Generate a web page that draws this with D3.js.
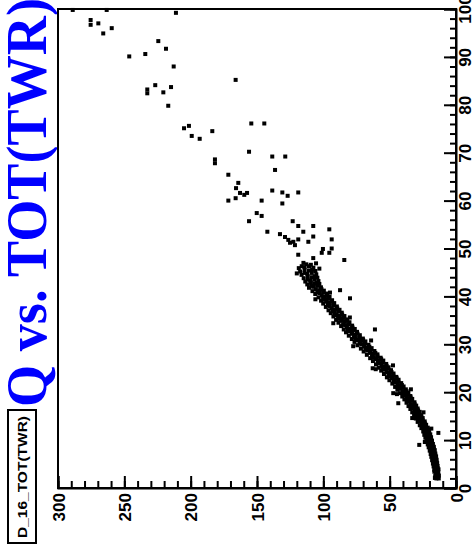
<!DOCTYPE html>
<html>
<head>
<meta charset="utf-8">
<script src="https://cdn.jsdelivr.net/npm/d3@7"></script>
<style>
body { margin: 0; background: #fff; }
svg { display: block; }
</style>
</head>
<body>
<svg></svg>
<script>
var width = 472, height = 558;
var frame = {left: 58, top: 9, right: 456, bottom: 488};

var title = "Q vs. TOT(TWR)";
var histName = "D_16_TOT(TWR)";
var qTicks = [0, 50, 100, 150, 200, 250, 300];
var totTicks = [0, 10, 20, 30, 40, 50, 60, 70, 80, 90, 100];

// scattered points [Q, TOT]
var sparse = [
  [288.9, 99.8], [263.3, 99.8], [211.1, 99.2], [275.4, 97.7], [275.4, 96.7], [269.6, 97.0],
  [259.5, 96.0], [265.9, 94.9], [224.4, 93.3], [218.6, 91.7], [246.3, 90.1], [234.2, 90.6],
  [212.8, 88.0], [166.1, 85.2], [232.7, 83.2], [232.7, 82.4], [226.7, 84.1], [220.6, 82.6],
  [214.8, 83.7], [216.9, 79.8], [205.0, 75.1], [201.3, 75.6], [199.2, 73.5], [193.2, 72.9],
  [183.7, 74.5], [154.3, 76.1], [144.5, 76.1], [181.7, 68.6], [181.7, 67.8], [156.0, 70.2],
  [138.5, 69.2], [128.7, 69.2], [136.4, 66.4], [171.6, 65.4], [164.1, 63.7], [165.8, 62.6],
  [162.8, 61.6], [159.6, 61.2], [157.5, 61.6], [171.6, 60.0], [166.1, 60.5], [146.5, 60.0],
  [138.5, 62.1], [130.9, 61.7], [126.9, 61.0], [118.9, 61.7], [130.9, 59.4], [150.2, 57.4],
  [146.5, 56.8], [156.0, 55.7], [142.2, 53.5], [123.1, 55.7], [118.9, 54.7], [115.1, 53.5],
  [107.6, 54.7], [95.5, 54.0], [93.7, 51.9], [107.6, 52.5], [132.7, 53.0], [128.9, 52.4],
  [126.4, 51.8], [122.6, 51.4], [118.9, 51.9], [111.3, 51.4], [93.7, 50.0], [100.3, 49.9],
  [125.1, 51.2], [121.4, 50.7], [118.9, 48.7], [107.6, 48.0], [101.2, 49.1], [95.5, 49.1],
  [84.2, 47.6], [87.4, 41.3], [79.9, 39.6], [91.2, 36.1], [61.1, 33.1], [62.8, 25.0],
  [47.3, 19.8], [43.5, 17.7], [27.7, 9.0], [13.3, 11.5], [14.5, 3.1]
];

// dense band [Q, TOT]
var band = [
  [13.0, 2.0], [14.8, 2.0], [15.9, 2.1], [12.9, 2.6], [14.2, 2.7], [15.6, 2.5],
  [13.4, 3.3], [15.2, 3.2], [16.3, 3.4], [13.2, 3.9], [14.6, 4.0], [16.4, 3.8],
  [13.9, 4.6], [15.8, 4.7], [16.9, 4.5], [14.2, 5.2], [15.5, 5.3], [17.4, 5.1],
  [14.6, 5.9], [16.8, 6.0], [18.0, 5.8], [15.0, 6.6], [16.5, 6.7], [18.6, 6.5],
  [15.6, 7.2], [17.9, 7.3], [19.1, 7.1], [16.0, 7.9], [17.6, 8.0], [19.8, 7.8],
  [16.7, 8.6], [19.2, 8.7], [20.6, 8.5], [17.4, 9.2], [19.0, 9.3], [21.3, 9.1],
  [18.1, 9.9], [20.8, 10.0], [22.2, 9.8], [18.8, 10.6], [20.6, 10.7], [23.1, 10.5],
  [19.4, 11.2], [22.3, 11.3], [23.9, 11.1], [20.2, 11.9], [22.1, 12.0], [24.7, 11.8],
  [21.3, 12.6], [24.4, 12.7], [26.1, 12.5], [22.5, 13.2], [24.6, 13.3], [27.3, 13.1],
  [23.6, 13.9], [27.1, 14.0], [28.9, 13.8], [25.1, 14.6], [27.3, 14.7], [30.3, 14.5],
  [26.2, 15.2], [29.7, 15.3], [31.6, 15.1], [27.4, 15.9], [29.8, 16.0], [33.0, 15.8],
  [28.9, 16.6], [32.6, 16.7], [34.4, 16.5], [30.0, 17.2], [32.4, 17.3], [35.8, 17.1],
  [31.3, 17.9], [35.2, 18.0], [37.3, 17.8], [33.0, 18.6], [35.4, 18.7], [38.9, 18.5],
  [34.4, 19.2], [38.3, 19.3], [40.5, 19.1], [35.9, 19.9], [38.5, 20.0], [42.1, 19.8],
  [37.8, 20.6], [42.0, 20.7], [44.2, 20.5], [39.5, 21.2], [42.2, 21.3], [45.9, 21.1],
  [41.3, 21.9], [45.8, 22.0], [48.0, 21.8], [43.3, 22.6], [46.2, 22.7], [50.2, 22.5],
  [45.0, 23.2], [49.7, 23.3], [52.1, 23.1], [47.1, 23.9], [50.1, 24.0], [54.3, 23.8],
  [49.0, 24.6], [53.9, 24.7], [56.4, 24.5], [50.8, 25.2], [53.8, 25.3], [58.2, 25.1],
  [52.6, 25.9], [57.6, 26.0], [60.3, 25.8], [54.8, 26.6], [58.1, 26.7], [62.6, 26.5],
  [56.8, 27.2], [61.9, 27.3], [64.7, 27.1], [59.2, 27.9], [62.5, 28.0], [67.2, 27.8],
  [61.5, 28.6], [66.7, 28.7], [69.6, 28.5], [63.6, 29.2], [67.0, 29.3], [71.7, 29.1],
  [66.0, 29.9], [71.3, 30.0], [74.3, 29.8], [68.3, 30.6], [71.7, 30.7], [76.5, 30.5],
  [70.2, 31.2], [75.5, 31.3], [78.5, 31.1], [72.5, 31.9], [76.0, 32.0], [80.8, 31.8],
  [74.6, 32.6], [79.9, 32.7], [82.9, 32.5], [76.3, 33.2], [79.8, 33.3], [84.6, 33.1],
  [78.3, 33.9], [83.6, 34.0], [86.6, 33.8], [80.3, 34.6], [83.8, 34.7], [88.6, 34.5],
  [82.1, 35.2], [87.4, 35.3], [90.4, 35.1], [84.1, 35.9], [87.6, 36.0], [92.4, 35.8],
  [86.1, 36.6], [91.4, 36.7], [94.4, 36.5], [87.8, 37.2], [91.3, 37.3], [96.1, 37.1],
  [89.8, 37.9], [95.1, 38.0], [98.1, 37.8], [91.8, 38.6], [95.3, 38.7], [100.1, 38.5],
  [93.4, 39.2], [98.7, 39.3], [101.7, 39.1], [95.3, 39.9], [98.8, 40.0], [103.6, 39.8],
  [97.5, 40.6], [103.0, 40.7], [106.1, 40.5], [99.6, 41.2], [103.2, 41.3], [108.2, 41.1],
  [101.8, 41.9], [107.6, 42.0], [110.8, 41.8], [103.0, 42.6], [106.8, 42.7], [112.1, 42.5],
  [103.7, 43.2], [109.9, 43.3], [113.6, 43.1], [104.5, 43.9], [108.6, 44.0], [114.8, 43.8],
  [105.3, 44.6], [112.1, 44.7], [116.4, 44.5], [106.0, 45.3], [110.8, 45.4], [117.5, 45.2],
  [107.5, 46.0], [114.2, 46.1], [118.5, 45.9], [109.4, 46.6], [112.8, 46.7]
];

// more band points between the ones above [Q, TOT]
var bandFill = [
  [13.9, 2.3], [15.4, 2.3], [13.5, 2.9], [14.9, 2.9], [14.3, 3.6], [15.8, 3.6],
  [13.9, 4.2], [15.5, 4.2], [14.8, 4.9], [16.4, 4.9], [14.8, 5.5], [16.5, 5.5],
  [15.7, 6.2], [17.4, 6.2], [15.7, 6.9], [17.5, 6.9], [16.7, 7.5], [18.5, 7.5],
  [16.8, 8.2], [18.7, 8.2], [17.9, 8.9], [19.9, 8.9], [18.2, 9.5], [20.1, 9.5],
  [19.4, 10.2], [21.5, 10.2], [19.7, 10.9], [21.8, 10.9], [20.8, 11.5], [23.1, 11.5],
  [21.1, 12.2], [23.4, 12.2], [22.8, 12.9], [25.2, 12.9], [23.5, 13.5], [25.9, 13.5],
  [25.3, 14.2], [28.0, 14.2], [26.2, 14.9], [28.8, 14.9], [27.9, 15.5], [30.6, 15.5],
  [28.6, 16.2], [31.4, 16.2], [30.7, 16.9], [33.5, 16.9], [31.2, 17.5], [34.1, 17.5],
  [33.2, 18.2], [36.2, 18.2], [34.2, 18.9], [37.1, 18.9], [36.3, 19.5], [39.4, 19.5],
  [37.2, 20.2], [40.3, 20.2], [39.9, 20.9], [43.1, 20.9], [40.8, 21.5], [44.0, 21.5],
  [43.5, 22.2], [46.9, 22.2], [44.7, 22.9], [48.2, 22.9], [47.3, 23.5], [50.9, 23.5],
  [48.6, 24.2], [52.2, 24.2], [51.4, 24.9], [55.1, 24.9], [52.3, 25.5], [56.0, 25.5],
  [55.1, 26.2], [58.9, 26.2], [56.4, 26.9], [60.3, 26.9], [59.3, 27.5], [63.3, 27.5],
  [60.8, 28.2], [64.8, 28.2], [64.1, 28.9], [68.1, 28.9], [65.3, 29.5], [69.3, 29.5],
  [68.6, 30.2], [72.8, 30.2], [70.0, 30.9], [74.1, 30.9], [72.8, 31.5], [77.0, 31.5],
  [74.2, 32.2], [78.4, 32.2], [77.2, 32.9], [81.4, 32.9], [78.0, 33.5], [82.2, 33.5],
  [80.9, 34.2], [85.1, 34.2], [82.0, 34.9], [86.2, 34.9], [84.7, 35.5], [88.9, 35.5],
  [85.8, 36.2], [90.0, 36.2], [88.7, 36.9], [92.9, 36.9], [89.5, 37.5], [93.7, 37.5],
  [92.4, 38.2], [96.6, 38.2], [93.5, 38.9], [97.7, 38.9], [96.0, 39.5], [100.2, 39.5],
  [97.0, 40.2], [101.2, 40.2], [100.2, 40.9], [104.5, 40.9], [101.4, 41.5], [105.7, 41.5],
  [104.7, 42.2], [109.2, 42.2], [104.9, 42.9], [109.4, 42.9], [106.8, 43.5], [111.7, 43.5],
  [106.5, 44.2], [111.7, 44.2], [108.7, 44.9], [114.2, 44.9], [108.4, 45.6], [114.1, 45.6],
  [110.8, 46.3], [116.3, 46.3]
];

// ragged points along the band edges [Q, TOT]
var bandEdge = [
  [18.6, 12.4], [23.5, 9.6], [24.5, 15.8], [33.0, 14.6], [34.0, 20.6], [44.5, 19.6],
  [47.5, 25.6], [60.5, 24.8], [64.0, 30.8], [77.5, 29.6], [80.0, 35.6], [92.5, 34.4],
  [95.0, 40.8], [106.0, 39.4], [103.0, 45.8], [120.0, 44.8], [105.5, 46.9], [115.0, 47.0]
];

var svg = d3.select("svg").attr("width", width).attr("height", height);

var xScale = d3.scaleLinear().domain([0, 300]).range([frame.right, frame.left]);
var yScale = d3.scaleLinear().domain([0, 100]).range([frame.bottom, frame.top]);

// title (rotated, blue)
svg.append("text")
  .attr("transform", "translate(46,407) rotate(-90)")
  .attr("font-family", "'Liberation Serif', 'Times New Roman', serif")
  .attr("font-weight", "bold")
  .attr("font-size", 56)
  .attr("fill", "#0000ff")
  .attr("textLength", 409)
  .attr("lengthAdjust", "spacingAndGlyphs")
  .text(title);

// histogram name box
svg.append("rect")
  .attr("x", 8).attr("y", 410).attr("width", 28).attr("height", 133)
  .attr("fill", "#fff").attr("stroke", "#000").attr("stroke-width", 2);
svg.append("text")
  .attr("transform", "translate(27,538) rotate(-90)")
  .attr("font-family", "'Liberation Sans', Arial, sans-serif")
  .attr("font-weight", "bold")
  .attr("font-size", 12)
  .attr("textLength", 122)
  .attr("lengthAdjust", "spacingAndGlyphs")
  .text(histName);

// frame
svg.append("rect")
  .attr("x", frame.left).attr("y", frame.top)
  .attr("width", frame.right - frame.left).attr("height", frame.bottom - frame.top)
  .attr("fill", "none").attr("stroke", "#000").attr("stroke-width", 2);

// minor ticks
svg.append("g")
  .attr("transform", "translate(0," + frame.bottom + ")")
  .call(d3.axisBottom(xScale).tickValues(d3.range(0, 301, 10)).tickSize(-7).tickFormat(""))
  .call(g => g.select(".domain").remove())
  .selectAll("line").attr("stroke-width", 2);
svg.append("g")
  .attr("transform", "translate(" + frame.right + ",0)")
  .call(d3.axisRight(yScale).tickValues(d3.range(0, 101, 2)).tickSize(-6).tickFormat(""))
  .call(g => g.select(".domain").remove())
  .selectAll("line").attr("stroke-width", 2);

// major ticks + labels
var axQ = svg.append("g")
  .attr("transform", "translate(0," + frame.bottom + ")")
  .call(d3.axisBottom(xScale).tickValues(qTicks).tickSize(-12));
axQ.select(".domain").attr("stroke-width", 2);
axQ.selectAll("line").attr("stroke-width", 2);
axQ.selectAll("text")
  .attr("transform", "rotate(-90)")
  .attr("x", -5).attr("y", 0).attr("dy", "0.36em")
  .attr("text-anchor", "end")
  .attr("font-family", "'Liberation Sans', Arial, sans-serif")
  .attr("font-weight", "bold")
  .attr("font-size", 17)
  .attr("fill", "#000");

var axT = svg.append("g")
  .attr("transform", "translate(" + frame.right + ",0)")
  .call(d3.axisRight(yScale).tickValues(totTicks).tickSize(-12));
axT.select(".domain").attr("stroke-width", 2);
axT.selectAll("line").attr("stroke-width", 2);
axT.selectAll("text")
  .attr("transform", "rotate(-90)")
  .attr("x", 0).attr("y", 15).attr("dy", 0)
  .attr("text-anchor", "middle")
  .attr("font-family", "'Liberation Sans', Arial, sans-serif")
  .attr("font-weight", "bold")
  .attr("font-size", 17)
  .attr("fill", "#000");

// points
svg.append("g")
  .selectAll("rect")
  .data(sparse.concat(band, bandFill, bandEdge))
  .enter()
  .append("rect")
  .attr("x", d => xScale(d[0]) - 2)
  .attr("y", d => yScale(d[1]) - 2)
  .attr("width", 4)
  .attr("height", 4)
  .attr("fill", "#000");
</script>
</body>
</html>
